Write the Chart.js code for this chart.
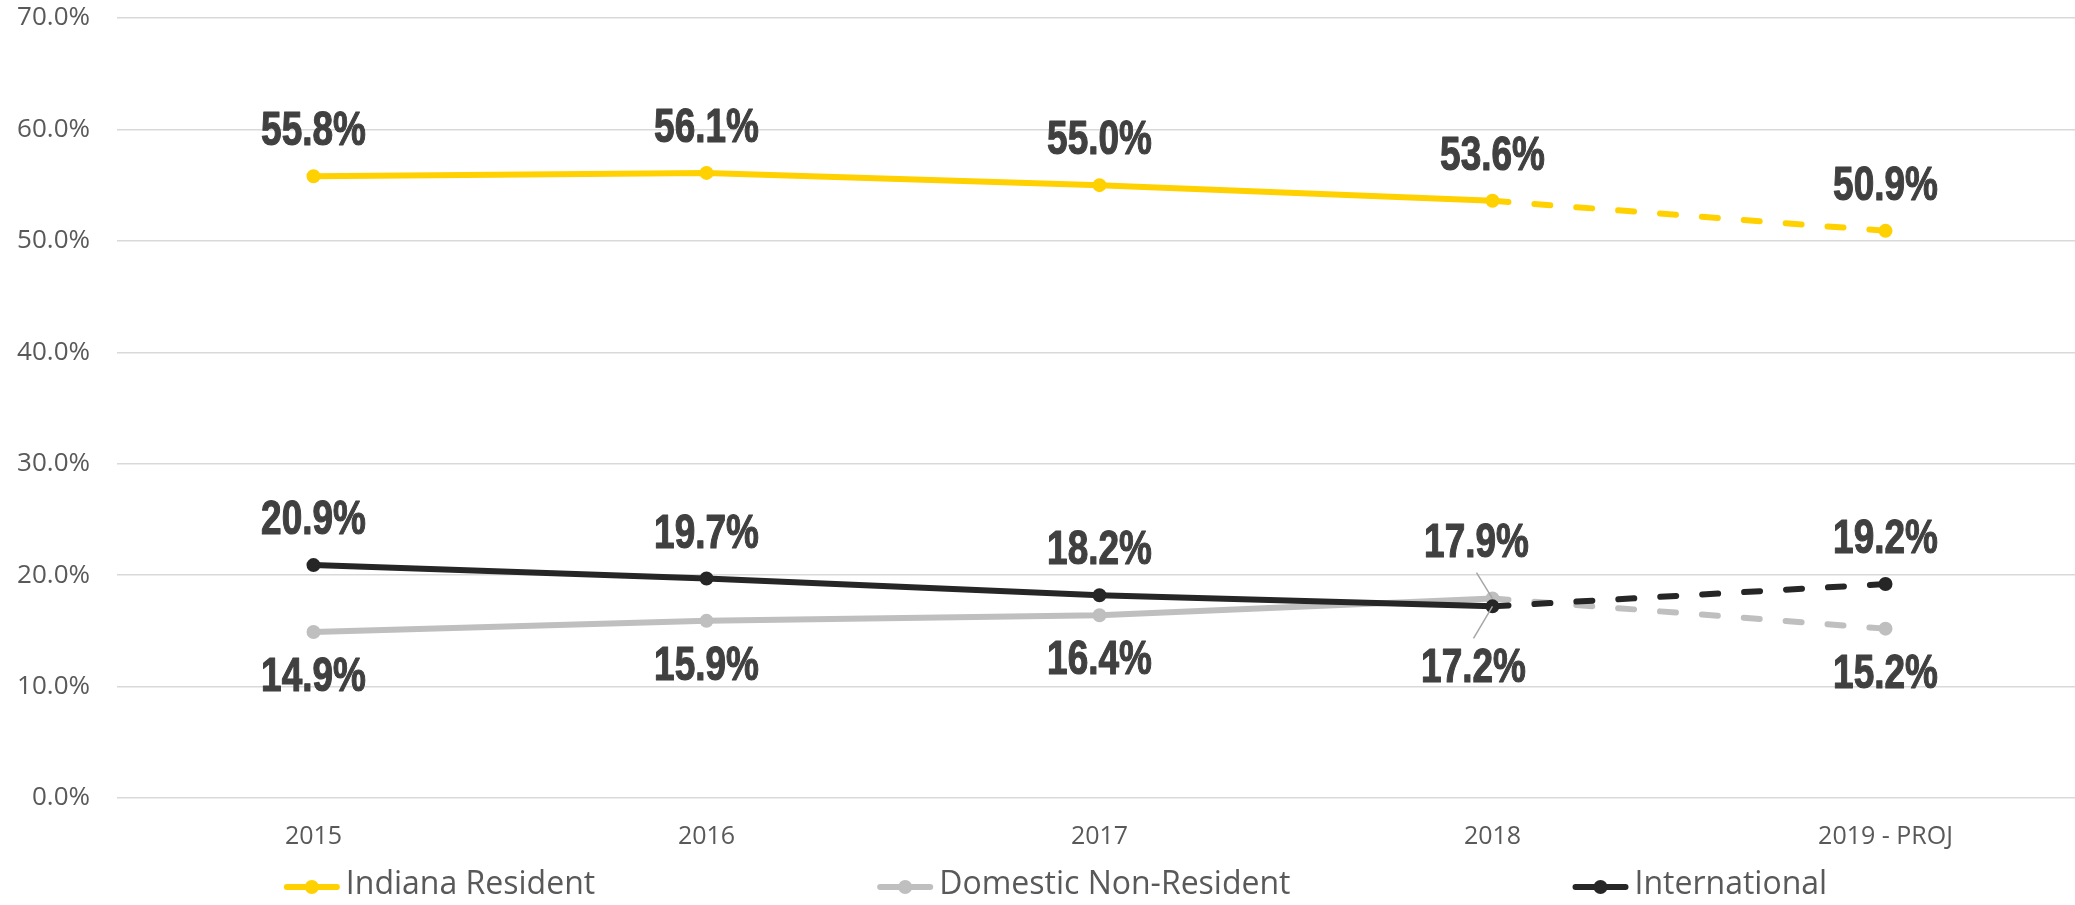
<!DOCTYPE html>
<html>
<head>
<meta charset="utf-8">
<title>Enrollment mix</title>
<script src="https://cdn.jsdelivr.net/npm/chart.js@4.4.0/dist/chart.umd.min.js"></script>
<style>
    html, body { margin: 0; padding: 0; background: #ffffff; overflow: hidden; }
    #wrap { width: 2075px; height: 905px; overflow: hidden; }
</style>
</head>
<body>
<!-- le canevas dépasse un peu à droite : la zone de tracé d'origine est coupée au bord -->
<div id="wrap"><canvas id="chart" width="2082" height="905"></canvas></div>
<script>
// Données (en %)
const years = ['2015', '2016', '2017', '2018', '2019 - PROJ'];
const indianaResident = [55.8, 56.1, 55.0, 53.6, 50.9];
const domesticNonResident = [14.9, 15.9, 16.4, 17.9, 15.2];
const international = [20.9, 19.7, 18.2, 17.2, 19.2];
const yTickValues = [0, 10, 20, 30, 40, 50, 60, 70];

const projectedFrom = 3; // segment 2018 -> 2019 en pointillés
const visibleWidth = 2075;

const textGrey = '#595959';
const labelColor = '#404040';

function dashedProjection(ctx) {
    return ctx.p0DataIndex >= projectedFrom ? [16, 26] : undefined;
}

function makeDataset(label, data, color, order, labelDy, special) {
    return {
        label: label,
        data: data,
        borderColor: color,
        backgroundColor: color,
        borderWidth: 6,
        borderCapStyle: 'round',
        pointRadius: 6,
        pointBorderWidth: 2,
        pointBackgroundColor: color,
        pointBorderColor: color,
        tension: 0,
        order: order,
        labelDy: labelDy,
        labelSpecial: special || {},
        segment: { borderDash: dashedProjection }
    };
}

// texte gras condensé : Liberation Sans bold compressé horizontalement
function drawCondensed(ctx, txt, x, y) {
    ctx.save();
    ctx.translate(x, y);
    ctx.scale(0.77, 1);
    ctx.strokeText(txt, 0, 0);
    ctx.fillText(txt, 0, 0);
    ctx.restore();
}

// Étiquettes de valeurs (pas de plugin datalabels dispo)
const valueLabels = {
    id: 'valueLabels',
    afterDatasetsDraw(chart) {
        const ctx = chart.ctx;
        ctx.save();
        ctx.font = 'bold 48px "Liberation Sans", Arial, sans-serif';
        ctx.fillStyle = labelColor;
        ctx.strokeStyle = labelColor;
        ctx.lineWidth = 1.2;
        ctx.lineJoin = 'round';
        ctx.textAlign = 'center';
        ctx.textBaseline = 'middle';
        chart.data.datasets.forEach((ds, di) => {
            const meta = chart.getDatasetMeta(di);
            meta.data.forEach((pt, i) => {
                const txt = ds.data[i].toFixed(1) + '%';
                const sp = ds.labelSpecial[i];
                if (sp) {
                    const lx = pt.x + sp.dx;
                    const ly = pt.y + sp.dy;
                    ctx.save();
                    ctx.strokeStyle = '#A6A6A6';
                    ctx.lineWidth = 1.5;
                    ctx.beginPath();
                    ctx.moveTo(lx, ly + sp.lead);
                    ctx.lineTo(pt.x, pt.y);
                    ctx.stroke();
                    ctx.restore();
                    drawCondensed(ctx, txt, lx, ly);
                } else {
                    drawCondensed(ctx, txt, pt.x, pt.y + ds.labelDy);
                }
            });
        });
        ctx.restore();
    }
};

// Légende dessinée à la main (espacement large comme l'original)
const wideLegend = {
    id: 'wideLegend',
    afterDraw(chart) {
        const ctx = chart.ctx;
        const gap = 282, lineW = 56, textGap = 6, cy = 887;
        ctx.save();
        ctx.font = '32px "Open Sans", sans-serif';
        ctx.textBaseline = 'middle';
        const items = chart.data.datasets.map(ds => ({
            ds: ds,
            w: lineW + textGap + ctx.measureText(ds.label).width
        }));
        const total = items.reduce((s, it) => s + it.w, 0) + gap * (items.length - 1);
        let x = visibleWidth / 2 - total / 2 + 18;
        items.forEach(it => {
            ctx.strokeStyle = it.ds.borderColor;
            ctx.lineWidth = 6;
            ctx.lineCap = 'round';
            ctx.beginPath();
            ctx.moveTo(x + 3, cy);
            ctx.lineTo(x + lineW - 3, cy);
            ctx.stroke();
            ctx.fillStyle = it.ds.borderColor;
            ctx.beginPath();
            ctx.arc(x + lineW / 2, cy, 7, 0, Math.PI * 2);
            ctx.fill();
            ctx.fillStyle = textGrey;
            ctx.fillText(it.ds.label, x + lineW + textGap, cy - 2);
            x += it.w + gap;
        });
        ctx.restore();
    }
};

const ctx = document.getElementById('chart').getContext('2d');

new Chart(ctx, {
    type: 'line',
    data: {
        labels: years,
        datasets: [
            makeDataset('Indiana Resident', indianaResident, '#FFD100', 0, -44),
            makeDataset('Domestic Non-Resident', domesticNonResident, '#BFBFBF', 2, 46,
                { 3: { dx: -16, dy: -55, lead: 29 } }),
            makeDataset('International', international, '#262626', 1, -44,
                { 3: { dx: -19, dy: 62, lead: -30 } })
        ]
    },
    options: {
        responsive: false,
        devicePixelRatio: 1,
        animation: false,
        layout: {
            autoPadding: false,
            padding: { top: 18, right: 0, bottom: 0, left: 0 }
        },
        plugins: {
            legend: { display: false },
            tooltip: { enabled: false },
            title: { display: false }
        },
        scales: {
            x: {
                offset: true,
                grid: { display: false, drawTicks: false },
                border: { display: false },
                ticks: {
                    color: textGrey,
                    padding: 24,
                    font: { family: '"Open Sans", sans-serif', size: 25 },
                    maxRotation: 0
                },
                afterFit: function (scale) {
                    scale.height = 107;
                    scale.paddingLeft = 0;
                    scale.paddingRight = 0;
                }
            },
            y: {
                min: 0,
                max: 70,
                afterBuildTicks: function (scale) {
                    scale.ticks = yTickValues.map(v => ({ value: v }));
                },
                grid: { color: '#D9D9D9', lineWidth: 1.5, drawTicks: false },
                border: { display: false },
                ticks: {
                    color: textGrey,
                    padding: 27,
                    font: { family: '"Open Sans", sans-serif', size: 26 },
                    callback: function (value) {
                        return value.toFixed(1) + '%';
                    }
                },
                afterFit: function (scale) {
                    scale.width = 117;
                    scale.paddingTop = 0;
                    scale.paddingBottom = 0;
                }
            }
        }
    },
    plugins: [valueLabels, wideLegend]
});
</script>
</body>
</html>
